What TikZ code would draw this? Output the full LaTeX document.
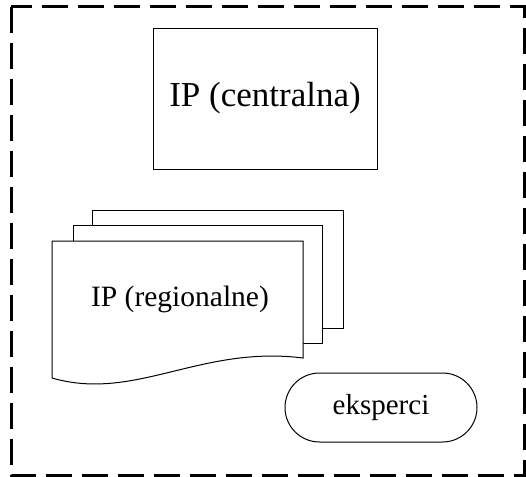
\documentclass[tikz,border=0pt]{standalone}
\usepackage{fontspec}
\setmainfont{Liberation Serif}
\tikzset{
  box/.style={draw, line width=0.5pt, fill=white, inner sep=0pt},
  page/.style={draw, line width=0.5pt, fill=white},
  frame/.style={draw, line width=1.5pt, dash pattern=on 13pt off 5pt},
}
\begin{document}
\begin{tikzpicture}[x=0.5pt,y=-0.5pt]
\useasboundingbox (0,0) rectangle (526,477);
\path[frame] (11,6.5) rectangle (524.5,475.5);

\node[box, minimum width=112pt, minimum height=70.5pt, font=\fontsize{17.5}{20}\selectfont] (central) at (265,98.5) {IP (centralna)};

\path[page] (92,210) rectangle (343,328);
\path[page] (73,225) rectangle (322,343);
\path[page] (52,241) -- (303,241) -- (303,358)
  .. controls (200,345) and (135,402) .. (52,378) -- cycle;
\node[font=\fontsize{14.75}{17}\selectfont] (regional) at (180,299) {IP (regionalne)};

\node[box, rounded corners=17.25pt, minimum width=96pt, minimum height=34.5pt, font=\fontsize{14.5}{17}\selectfont] (experts) at (381,407.5) {eksperci};
\end{tikzpicture}
\end{document}
